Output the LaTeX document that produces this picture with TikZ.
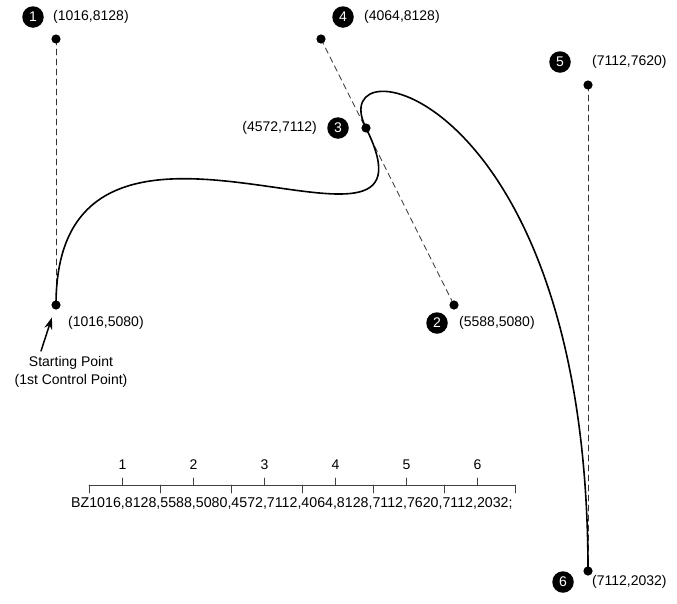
\documentclass[tikz,border=0pt]{standalone}
\usepackage{fontspec}
\setmainfont{Liberation Sans}
\usetikzlibrary{arrows.meta}

\begin{document}
\begin{tikzpicture}[x=1pt,y=-1pt,>={Stealth[length=12pt,width=8pt]},font=\fontsize{14}{18}\selectfont,line cap=round,
  badge/.style={circle,fill=black,text=white,inner sep=0pt,minimum size=21.5pt,font=\fontsize{14}{14}\selectfont},
  ptlbl/.style={inner sep=0pt},
  ctrl/.style={dash pattern=on 6pt off 4pt,gray!40!black,line width=0.7pt},
  ruler/.style={gray!50!black,line width=0.9pt}]
\useasboundingbox (0,0) rectangle (677,603);
% control points
\coordinate (p0) at (56,305);
\coordinate (p1) at (56,39);
\coordinate (p2) at (454,305);
\coordinate (p3) at (366,128);
\coordinate (p4) at (321,39);
\coordinate (p5) at (588,85);
\coordinate (p6) at (588,571);
\draw[ctrl] (p1) -- (p0);
\draw[ctrl] (p4) -- (p2);
\draw[ctrl] (p5) -- (p6);
\draw[line width=1.6pt] (p0) .. controls (p1) and (p2) .. (p3)
  .. controls (p4) and (p5) .. (p6);
\foreach \p in {p0,p1,p2,p3,p4,p5,p6}
  \fill (\p) circle (4.6pt);
% badges and labels
\node[badge] (b1) at (33,17) {1};
\node[ptlbl,anchor=west] (l1) at (53,17) {(1016,8128)};
\node[badge] (b4) at (343,17) {4};
\node[ptlbl,anchor=west] (l4) at (364,17) {(4064,8128)};
\node[badge] (b3) at (338,128) {3};
\node[ptlbl,anchor=east] (l3) at (317,128) {(4572,7112)};
\node[badge] (b5) at (560,62) {5};
\node[ptlbl,anchor=west] (l5) at (592,62) {(7112,7620)};
\node[badge] (b2) at (437,323) {2};
\node[ptlbl,anchor=west] (l2) at (459,323) {(5588,5080)};
\node[badge] (b6) at (563,582) {6};
\node[ptlbl,anchor=west] (l6) at (592,582) {(7112,2032)};
\node[ptlbl,anchor=west] (l0) at (68,323) {(1016,5080)};
% starting point
\node[ptlbl,align=center,anchor=north] (start) at (71,356) {Starting Point\\(1st Control Point)};
\coordinate (tail) at (41,351);
\draw[->,line width=1.5pt,shorten >=13pt] (tail) -- (p0);
% ruler over the command
\draw[ruler] (89,485) -- (515,485);
\foreach \k in {0,...,6}
  \draw[ruler] (89+71*\k,485) -- (89+71*\k,493);
\foreach \k in {1,...,6} {
  \draw[ruler] (51.5+71*\k,478) -- (51.5+71*\k,485);
  \node (n\k) at (51.5+71*\k,465) {\k};
}
\node[ptlbl,anchor=base west,font=\fontsize{14.2}{17}\selectfont] (cmd) at (71,507) {BZ1016,8128,5588,5080,4572,7112,4064,8128,7112,7620,7112,2032;};
\end{tikzpicture}
\end{document}
